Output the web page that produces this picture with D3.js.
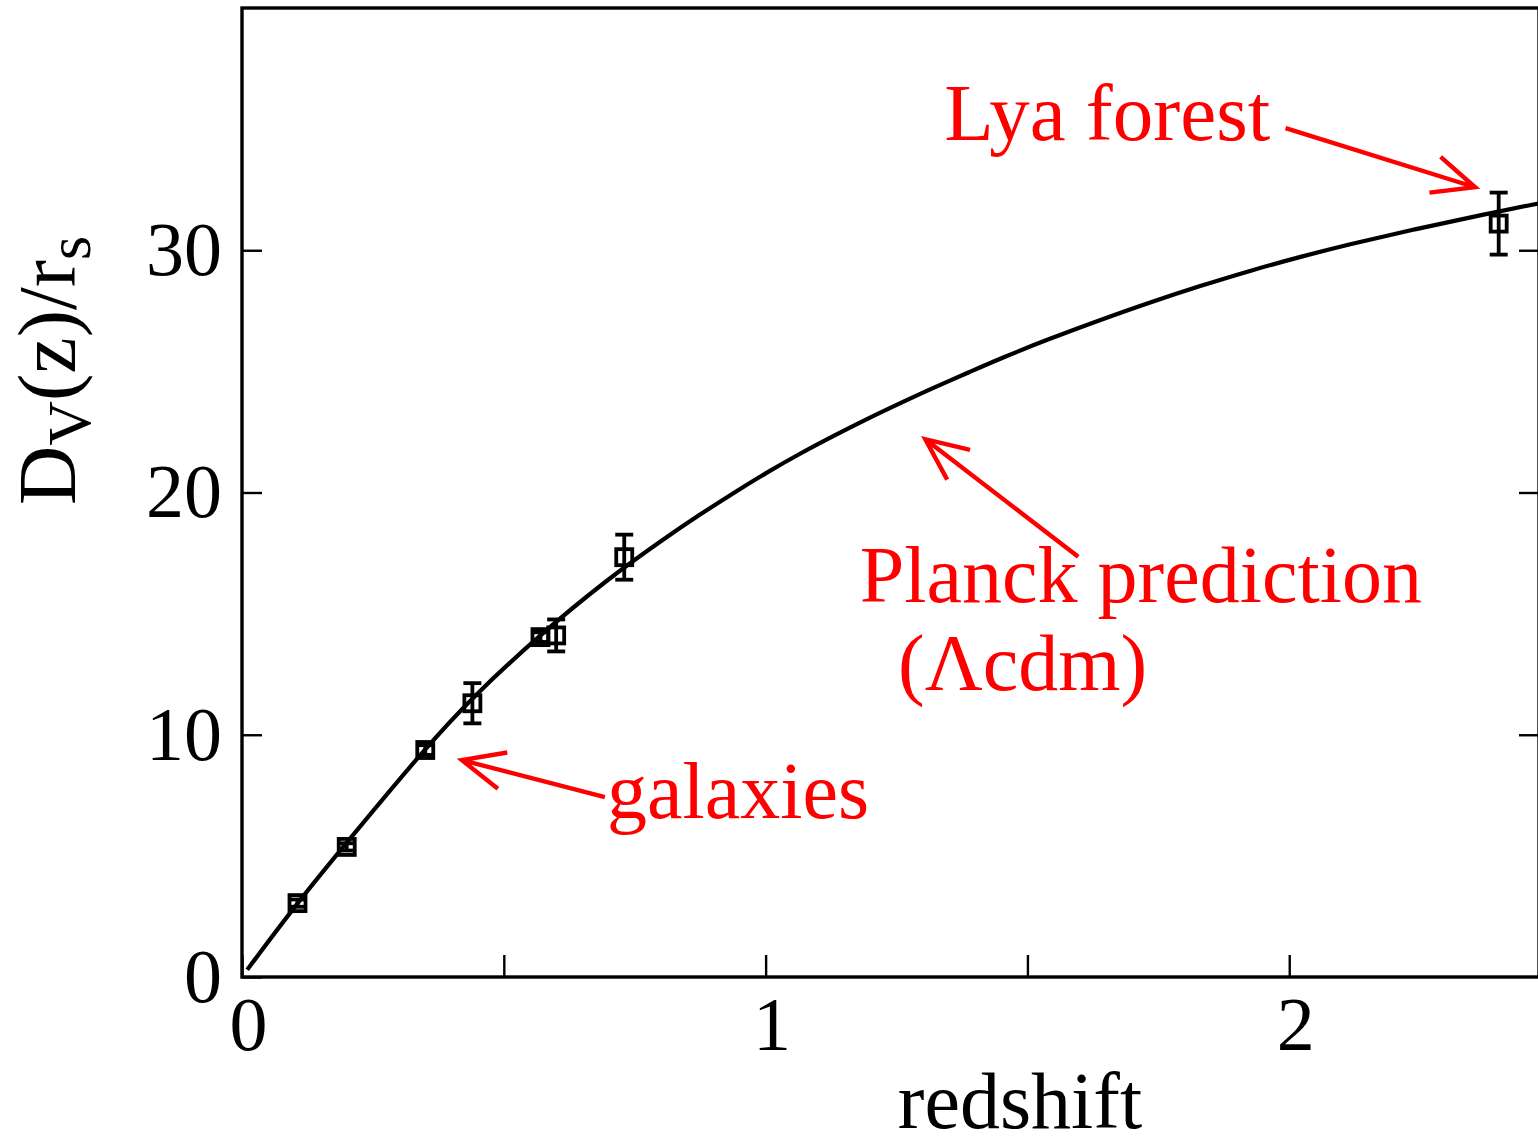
<!DOCTYPE html>
<html>
<head>
<meta charset="utf-8">
<script src="https://cdn.jsdelivr.net/npm/d3@7"></script>
<style>
  html, body { margin: 0; padding: 0; background: #fff; }
  svg { display: block; }
  text { font-family: "Liberation Serif", "Times New Roman", serif; }
</style>
</head>
<body>
<div id="main"></div>
<script>
const ctx = {
    w: 1538,
    h: 1142,
    left: 242, right: 1539, top: 8, bottom: 977,
};

// Planck LCDM prediction
const curveZ = [0.01, 0.105, 0.2, 0.35, 0.44, 0.57, 0.70, 0.80, 0.875, 0.94, 1.0, 1.07, 1.13, 1.19,
                1.26, 1.32, 1.39, 1.45, 1.54, 1.64, 1.73, 1.83, 1.93, 2.02, 2.11, 2.24, 2.37, 2.48];
const curveD = [0.3, 3.05, 5.55, 9.45, 11.55, 14.15, 16.45, 18.0, 19.1, 20.0, 20.8, 21.66, 22.34, 23.0,
                23.72, 24.32, 24.98, 25.55, 26.33, 27.13, 27.82, 28.53, 29.19, 29.72, 30.22, 30.87, 31.47, 31.95];

// BAO measurements
const pointZ   = [0.106, 0.2, 0.35, 0.44, 0.57, 0.60, 0.73, 2.40];
const pointD   = [3.05, 5.37, 9.37, 11.3, 14.03, 14.1, 17.33, 31.1];
const pointErr = [0.15, 0.15, 0.2, 0.83, 0.2, 0.66, 0.93, 1.28];

const xTicks = [0, 0.5, 1, 1.5, 2];
const yTicks = [0, 10, 20, 30];

// annotations: text, [x,y] in data units for text start, arrow tail and tip
const notes = [
    { text: "Lya forest", at: [1.341, 34.55], tail: [1.993, 35.04], tip: [2.355, 32.6] },
    { text: "Planck prediction", at: [1.180, 15.5], tail: [1.597, 17.35], tip: [1.305, 22.2] },
    { text: "(Λcdm)", at: [1.253, 11.83], tail: null, tip: null },
    { text: "galaxies", at: [0.697, 6.55], tail: [0.693, 7.43], tip: [0.42, 8.95] },
];

function createViz() {
    const svg = d3.select("#main").append("svg")
        .attr("width", ctx.w).attr("height", ctx.h);

    const x = d3.scaleLinear().domain([0, 2.477]).range([ctx.left, ctx.right]);
    const y = d3.scaleLinear().domain([0, 40]).range([ctx.bottom, ctx.top]);

    // frame
    svg.append("rect")
        .attr("x", ctx.left).attr("y", ctx.top)
        .attr("width", ctx.right - ctx.left).attr("height", ctx.bottom - ctx.top)
        .attr("fill", "none").attr("stroke", "#000").attr("stroke-width", 3.4);

    const xAxis = d3.axisBottom(x).tickValues(xTicks).tickSize(-22).tickPadding(19)
        .tickFormat(d => Number.isInteger(d) ? d : "");
    const gx = svg.append("g").attr("transform", `translate(0,${ctx.bottom})`).call(xAxis);

    const yAxis = d3.axisLeft(y).tickValues(yTicks).tickSize(-20).tickPadding(20);
    const gy = svg.append("g").attr("transform", `translate(${ctx.left},0)`).call(yAxis);

    const gr = svg.append("g").attr("transform", `translate(${ctx.right},0)`)
        .call(d3.axisRight(y).tickValues(yTicks.slice(1)).tickSize(-20).tickFormat(""));

    [gx, gy, gr].forEach(g => {
        g.select(".domain").remove();
        g.selectAll(".tick line").attr("stroke", "#000").attr("stroke-width", 2.4);
        g.selectAll("text")
            .style("font-family", '"Liberation Serif", "Times New Roman", serif')
            .style("font-size", "76px").attr("fill", "#000");
    });
    gx.selectAll(".tick text").attr("dx", 6);

    // axis titles
    svg.append("text")
        .attr("x", 1020).attr("y", 1128)
        .attr("text-anchor", "middle")
        .style("font-size", "80px")
        .text("redshift");

    const yl = svg.append("text")
        .attr("transform", "translate(75,505) rotate(-90)")
        .style("font-size", "82px");
    yl.append("tspan").text("D");
    yl.append("tspan").attr("dy", 15).style("font-size", "62px").text("V");
    yl.append("tspan").attr("dy", -15).text("(z)/r");
    yl.append("tspan").attr("dy", 15).style("font-size", "62px").text("s");

    // prediction curve
    const line = d3.line()
        .x((d, i) => x(curveZ[i]))
        .y(d => y(d))
        .curve(d3.curveBasis);
    svg.append("path")
        .datum(curveD)
        .attr("d", line)
        .attr("fill", "none")
        .attr("stroke", "#000")
        .attr("stroke-width", 4.2);

    // data points with error bars
    const pts = svg.append("g").selectAll("g")
        .data(pointZ.map((z, i) => ({ z: z, d: pointD[i], e: pointErr[i] })))
        .join("g")
        .attr("stroke", "#000").attr("stroke-width", 3.8).attr("fill", "none");
    pts.append("line")
        .attr("x1", d => x(d.z)).attr("x2", d => x(d.z))
        .attr("y1", d => y(d.d - d.e)).attr("y2", d => y(d.d + d.e));
    pts.append("line")
        .attr("x1", d => x(d.z) - 9).attr("x2", d => x(d.z) + 9)
        .attr("y1", d => y(d.d - d.e)).attr("y2", d => y(d.d - d.e));
    pts.append("line")
        .attr("x1", d => x(d.z) - 9).attr("x2", d => x(d.z) + 9)
        .attr("y1", d => y(d.d + d.e)).attr("y2", d => y(d.d + d.e));
    pts.append("rect")
        .attr("x", d => x(d.z) - 8).attr("y", d => y(d.d) - 8)
        .attr("width", 16).attr("height", 16);

    // red annotations
    const ann = svg.append("g");
    notes.forEach(n => {
        ann.append("text")
            .attr("x", x(n.at[0])).attr("y", y(n.at[1]))
            .attr("fill", "#ff0000")
            .style("font-size", n.text === "Lya forest" ? "81px" : "80px")
            .text(n.text);
        if (n.tail) {
            const x0 = x(n.tail[0]), y0 = y(n.tail[1]);
            const x1 = x(n.tip[0]), y1 = y(n.tip[1]);
            const a = Math.atan2(y1 - y0, x1 - x0);
            const L = 46, spread = 0.42;
            const p = d3.path();
            p.moveTo(x0, y0); p.lineTo(x1, y1);
            p.moveTo(x1 - L * Math.cos(a - spread), y1 - L * Math.sin(a - spread));
            p.lineTo(x1, y1);
            p.lineTo(x1 - L * Math.cos(a + spread), y1 - L * Math.sin(a + spread));
            ann.append("path")
                .attr("d", p.toString())
                .attr("fill", "none")
                .attr("stroke", "#ff0000")
                .attr("stroke-width", 4.4);
        }
    });
}

createViz();
</script>
</body>
</html>
